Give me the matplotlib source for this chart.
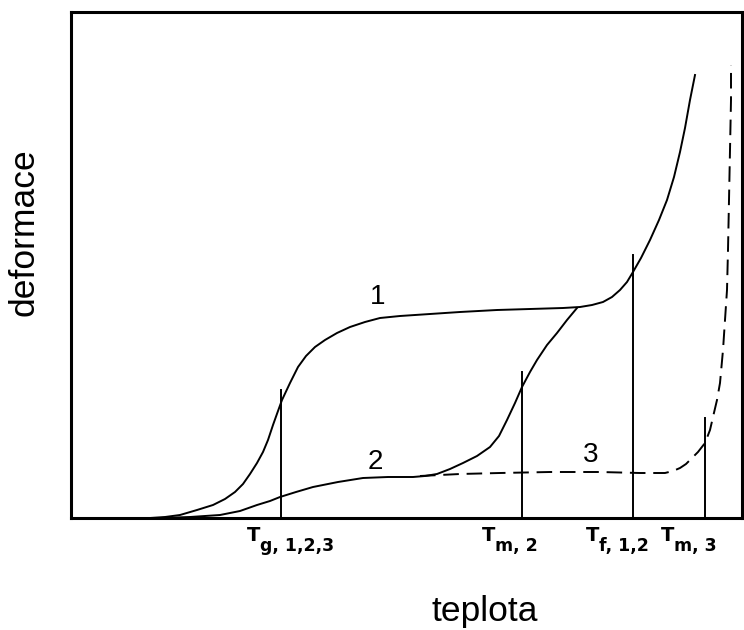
import matplotlib.pyplot as plt

plt.rcParams['font.family'] = ['Liberation Sans', 'DejaVu Sans']

# osa x: teplota, osa y: deformace (libovolne jednotky, pocatek vlevo dole)
X0, Y0 = 71, 518

# krivka 1 - amorfni polymer
k1_x = [150, 165, 180, 197, 213, 225, 235, 243, 250, 257, 263, 268, 273, 278, 282,
        290, 298, 306, 315, 325, 337, 350, 365, 380, 400, 430, 460, 497, 530, 563,
        580, 592, 603, 612, 620, 627, 633, 641, 650, 659, 667, 674, 680, 685, 690, 695]
k1_y = [518, 517, 515, 510, 505, 499, 492, 484, 474, 463, 452, 440, 425, 411, 400,
        383, 367, 356, 347, 340, 333, 327, 322, 318, 316, 314, 312, 310, 309, 308,
        307, 305, 302, 297, 290, 282, 272, 258, 240, 220, 200, 177, 152, 128, 100, 75]

# krivka 2 - semikrystalicky polymer
k2_x = [160, 190, 220, 240, 257, 270, 280, 296, 313, 338, 363, 388, 413, 425, 437,
        450, 463, 477, 490, 499, 507, 515, 522, 530, 537, 547, 557, 567, 577]
k2_y = [518, 517, 515, 511, 505, 501, 497, 492, 487, 482, 478, 477, 477, 476, 474,
        469, 463, 456, 447, 436, 420, 403, 387, 372, 360, 345, 333, 320, 308]

# krivka 3 - krystalicky polymer (carkovane)
k3_x = [420, 460, 500, 550, 600, 640, 665, 673, 680, 686, 692, 698, 705, 710, 713,
        717, 720, 723, 725, 727, 728, 729, 730, 731, 731]
k3_y = [476, 474, 473, 472, 472, 473, 473, 471, 468, 464, 458, 452, 443, 430, 417,
        400, 383, 350, 320, 290, 250, 200, 150, 100, 65]

# charakteristicke teploty: poloha svisle cary, jeji horni konec a popis
teploty_x = [281, 522, 633, 705]
teploty_vrch = [390, 372, 255, 418]
teploty_index = ['g, 1,2,3', 'm, 2', 'f, 1,2', 'm, 3']
popis_x = [247, 482, 586, 661]


def tx(v):
    return [a - X0 for a in v]


def ty(v):
    return [Y0 - a for a in v]


fig = plt.figure(figsize=(7.44, 6.3), dpi=100)
ax = fig.add_axes([71 / 744, (630 - 518) / 630, (742 - 71) / 744, (518 - 12) / 630])

ax.plot(tx(k1_x), ty(k1_y), color='black', lw=1.4)
ax.plot(tx(k2_x), ty(k2_y), color='black', lw=1.4)
ax.plot(tx(k3_x), ty(k3_y), color='black', lw=1.4, dashes=(8, 4))

for x, top, idx, lx in zip(teploty_x, teploty_vrch, teploty_index, popis_x):
    ax.plot([x - X0, x - X0], [0, Y0 - top], color='black', lw=1.4)
    ax.text(lx - X0, Y0 - 541, 'T', ha='left', va='baseline',
            fontsize=14, fontweight='bold', family='DejaVu Sans')
    ax.annotate(idx, xy=(lx - X0, Y0 - 541), xytext=(9.5, -7),
                textcoords='offset points', ha='left', va='baseline',
                fontsize=12.5, fontweight='bold', family='DejaVu Sans',
                annotation_clip=False)

ax.text(378 - X0, Y0 - 297, '1', ha='center', va='center', fontsize=20)
ax.text(375 - X0, Y0 - 462, '2', ha='center', va='center', fontsize=20)
ax.text(591 - X0, Y0 - 455, '3', ha='center', va='center', fontsize=20)

ax.set_xlim(0, 742 - X0)
ax.set_ylim(0, Y0 - 12)
ax.set_xticks([])
ax.set_yticks([])
for s in ax.spines.values():
    s.set_linewidth(2.2)

fig.text(485 / 744, 1 - 611 / 630, 'teplota', ha='center', va='center', fontsize=25.5)
fig.text(24 / 744, 1 - 232 / 630, 'deformace', ha='center', va='center',
         rotation=90, fontsize=25.5)

fig.savefig('out.png', dpi=100)
